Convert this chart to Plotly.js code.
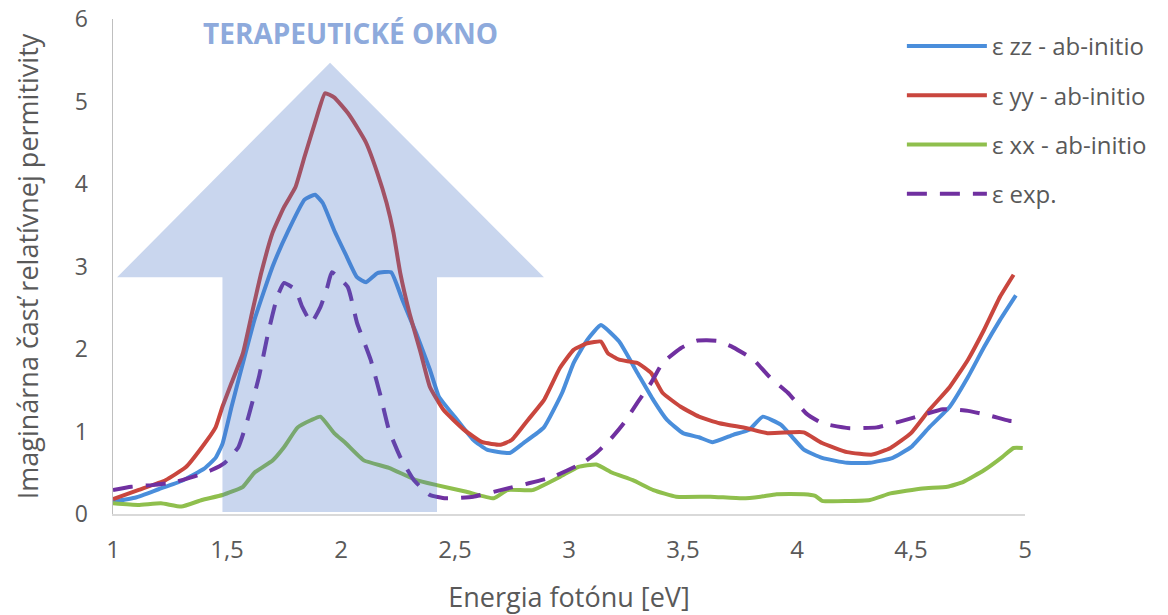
<!DOCTYPE html>
<html>
<head>
<meta charset="utf-8">
<script src="https://cdn.plot.ly/plotly-3.0.1.min.js"></script>
<style>html,body{margin:0;padding:0;background:#fff;}#chart{width:1168px;height:615px;}</style>
</head>
<body>
<div id="chart"></div>
<script>
// ε zz - ab-initio
const zzX = [1.0,1.1,1.2,1.3,1.4,1.45,1.48,1.52,1.55,1.62,1.70,1.77,1.84,1.886,1.92,1.97,2.02,2.07,2.11,2.16,2.22,2.27,2.33,2.39,2.43,2.51,2.58,2.64,2.74,2.80,2.89,2.97,3.02,3.08,3.14,3.22,3.30,3.37,3.43,3.50,3.57,3.63,3.72,3.79,3.85,3.93,3.98,4.03,4.11,4.22,4.32,4.42,4.50,4.58,4.67,4.75,4.82,4.89,4.96];
const zzY = [0.15,0.2,0.3,0.4,0.55,0.68,0.85,1.3,1.62,2.35,3.0,3.44,3.81,3.87,3.77,3.44,3.15,2.87,2.81,2.92,2.93,2.59,2.19,1.75,1.42,1.14,0.9,0.78,0.74,0.86,1.05,1.47,1.83,2.11,2.29,2.09,1.71,1.38,1.14,0.98,0.93,0.87,0.96,1.02,1.18,1.08,0.93,0.78,0.68,0.62,0.62,0.68,0.81,1.05,1.30,1.66,2.02,2.35,2.65];
// ε yy - ab-initio
const yyX = [1.0,1.11,1.23,1.32,1.39,1.45,1.48,1.52,1.57,1.61,1.65,1.70,1.75,1.80,1.84,1.89,1.93,1.97,2.03,2.07,2.11,2.16,2.20,2.23,2.26,2.30,2.35,2.39,2.45,2.54,2.62,2.70,2.75,2.82,2.89,2.96,3.02,3.08,3.14,3.17,3.22,3.30,3.36,3.41,3.49,3.57,3.66,3.78,3.87,3.97,4.03,4.11,4.22,4.33,4.41,4.50,4.58,4.67,4.75,4.82,4.89,4.95];
const yyY = [0.18,0.29,0.41,0.57,0.81,1.05,1.3,1.59,1.95,2.44,2.92,3.41,3.72,3.96,4.33,4.78,5.1,5.05,4.86,4.69,4.5,4.13,3.77,3.41,2.92,2.44,1.95,1.54,1.26,1.02,0.87,0.84,0.9,1.14,1.38,1.77,1.99,2.07,2.09,1.95,1.87,1.83,1.71,1.47,1.30,1.18,1.10,1.04,0.98,0.99,0.99,0.86,0.75,0.72,0.80,0.98,1.26,1.54,1.87,2.23,2.63,2.9];
// ε xx - ab-initio
const xxX = [1.0,1.11,1.21,1.30,1.39,1.48,1.57,1.62,1.70,1.75,1.81,1.87,1.91,1.97,2.02,2.10,2.21,2.33,2.42,2.55,2.67,2.73,2.84,2.96,3.04,3.12,3.19,3.28,3.37,3.47,3.62,3.76,3.84,3.91,4.03,4.08,4.11,4.32,4.41,4.55,4.66,4.73,4.82,4.90,4.95,4.99];
const xxY = [0.13,0.11,0.13,0.09,0.17,0.23,0.33,0.50,0.65,0.81,1.05,1.14,1.18,0.98,0.86,0.65,0.56,0.41,0.35,0.27,0.19,0.29,0.29,0.45,0.57,0.60,0.50,0.41,0.29,0.21,0.21,0.19,0.21,0.24,0.24,0.22,0.16,0.17,0.25,0.31,0.33,0.39,0.53,0.69,0.80,0.80];
// ε exp.
const expX = [1.0,1.08,1.17,1.26,1.35,1.43,1.49,1.55,1.59,1.64,1.68,1.72,1.75,1.80,1.83,1.87,1.91,1.94,1.96,2.03,2.07,2.13,2.17,2.21,2.26,2.32,2.39,2.46,2.58,2.70,2.82,2.93,3.06,3.12,3.18,3.24,3.30,3.36,3.41,3.49,3.56,3.65,3.72,3.81,3.88,3.96,4.04,4.11,4.23,4.35,4.45,4.55,4.64,4.75,4.85,4.93,4.98];
const expY = [0.29,0.33,0.35,0.38,0.45,0.53,0.62,0.81,1.14,1.66,2.19,2.63,2.80,2.72,2.51,2.32,2.51,2.75,2.93,2.75,2.32,1.87,1.47,1.02,0.69,0.41,0.23,0.19,0.21,0.29,0.37,0.45,0.62,0.74,0.90,1.10,1.35,1.59,1.83,2.01,2.10,2.10,2.02,1.87,1.66,1.47,1.22,1.10,1.04,1.05,1.12,1.20,1.27,1.25,1.19,1.13,1.12];

const seriesNames = ['ε zz - ab-initio','ε yy - ab-initio','ε xx - ab-initio','ε exp.'];
const xTickVals = [1,1.5,2,2.5,3,3.5,4,4.5,5];
const xTickText = ['1','1,5','2','2,5','3','3,5','4','4,5','5'];
const yTickVals = [0,1,2,3,4,5,6];
const yTickText = ['0','1','2','3','4','5','6'];

const FONT = '"Open Sans", "Noto Sans", sans-serif';
const mk = (x, y, name, color, dash, g) => ({
  x: x, y: y, name: name, type: 'scatter', mode: 'lines',
  legendgroup: g,
  line: {color: color, width: 4, dash: dash, shape: 'spline', smoothing: 0.4}
});

const traces = [
  mk(zzX, zzY, seriesNames[0], '#4a8edb', 'solid', 'a'),
  mk(yyX, yyY, seriesNames[1], '#c9463e', 'solid', 'b'),
  mk(xxX, xxY, seriesNames[2], '#8fbf4d', 'solid', 'c'),
  mk(expX, expY, seriesNames[3], '#7030a0', '20px,13px', 'd')
];

const layout = {
  width: 1168, height: 615,
  margin: {l: 113, r: 143, t: 19, b: 101},
  paper_bgcolor: '#ffffff', plot_bgcolor: '#ffffff',
  font: {family: FONT, color: '#595959', size: 19},
  showlegend: true,
  legend: {
    x: 0.865, y: 0.99, xanchor: 'left', yanchor: 'top',
    bgcolor: 'rgba(0,0,0,0)', font: {size: 24, color: '#595959', family: FONT},
    itemwidth: 80, tracegroupgap: 15
  },
  xaxis: {
    range: [1, 5], tickvals: xTickVals, ticktext: xTickText,
    showgrid: false, zeroline: false, showline: true, linecolor: '#d9d9d9', linewidth: 1.5,
    ticks: '', tickfont: {size: 24, color: '#595959'}, ticklabelstandoff: 14,
    title: {text: 'Energia fotónu [eV]', font: {size: 27, color: '#595959'}, standoff: 26}
  },
  yaxis: {
    range: [0, 6], tickvals: yTickVals, ticktext: yTickText,
    showgrid: false, zeroline: false, showline: true, linecolor: '#bfbfbf', linewidth: 1.5,
    ticks: '', tickfont: {size: 23, color: '#595959'}, ticklabelstandoff: 19,
    title: {text: 'Imaginárna časť relatívnej permitivity', font: {size: 27, color: '#595959'}, standoff: 28}
  },
  shapes: [{
    type: 'path', layer: 'above', xref: 'x', yref: 'y',
    path: 'M1.018,2.87 L1.952,5.47 L2.89,2.87 L2.421,2.87 L2.421,0.024 L1.48,0.024 L1.48,2.87 Z',
    fillcolor: 'rgba(68,114,196,0.29)', line: {width: 0}
  }],
  annotations: [{
    text: '<b>TERAPEUTICKÉ OKNO</b>', xref: 'paper', yref: 'paper',
    x: (350 - 113) / 912, y: (514 - 33) / 495, xanchor: 'center', yanchor: 'middle',
    showarrow: false, font: {family: FONT, size: 28, color: '#8eaadc'}
  }]
};

Plotly.newPlot('chart', traces, layout, {displayModeBar: false, staticPlot: true});
</script>
</body>
</html>
